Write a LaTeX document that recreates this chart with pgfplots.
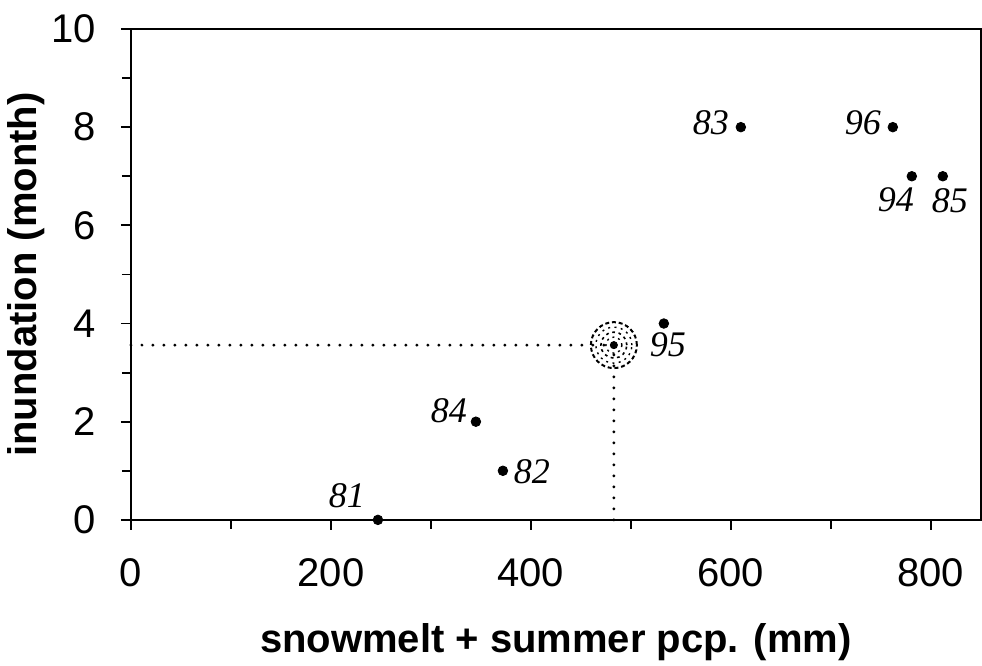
\documentclass[border=0pt]{standalone}
\usepackage{pgfplots}
\pgfplotsset{compat=1.18}
\usepackage{pgfplotstable}
\usepackage{fontspec}
\setmainfont{Liberation Serif}
\newfontfamily\arialfont{Liberation Sans}

% year, x = snowmelt + summer pcp. (mm), y = inundation (months), label offsets (pt)
\pgfplotstableread{
x    y   lbl  dx     dy
247  0   81   -15.5  12
372  1   82   14.5   -0.5
345  2   84   -13.5  5.5
533  4   95   2      -10.5
610  8   83   -15    2
762  8   96   -15    2
781  7   94   -8     -12
812  7   85   3.5    -12
}\yeardata

\begin{document}
\begin{tikzpicture}
\begin{axis}[
  scale only axis,
  width=425pt, height=245.5pt,
  xmin=0, xmax=850, ymin=0, ymax=10,
  axis line style={line width=1pt},
  tick style={line width=0.9pt, black},
  tick align=outside,
  tick pos=left,
  major tick length=5pt,
  minor tick length=4.5pt,
  xtick={0,200,...,800},
  minor xtick={100,300,...,700},
  ytick={0,2,...,10},
  minor ytick={1,3,...,9},
  /pgf/number format/assume math mode=true,
  tick label style={font=\arialfont\fontsize{20}{24}\selectfont},
  xticklabel style={anchor=center, yshift=-21.5pt},
  yticklabel style={anchor=east, xshift=-9pt},
  label style={font=\arialfont\bfseries\fontsize{20}{24}\selectfont},
  xlabel={snowmelt + summer pcp. (mm)},
  ylabel={inundation (month)},
  xlabel style={at={(axis description cs:0.5,-0.2500)}, anchor=center},
  ylabel style={at={(axis description cs:-0.1235,0.5)}, anchor=center},
  clip=false,
]
% reference lines to the mean year
\addplot[line width=1.6pt, line cap=round, dash pattern=on 0pt off 5.5pt]
  coordinates {(0,3.56) (483,3.56)};
\addplot[line width=1.6pt, line cap=round, dash pattern=on 0pt off 5.5pt]
  coordinates {(483,0) (483,3.56)};
% shaded ring around the mean year
\addplot[only marks, mark=o, mark size=11.5pt,
  mark options={line width=1pt, dash pattern=on 2pt off 1.4pt, black}]
  coordinates {(483,3.56)};
\addplot[only marks, mark=o, mark size=9pt,
  mark options={line width=0.7pt, dash pattern=on 1pt off 2.2pt, black}]
  coordinates {(483,3.56)};
\addplot[only marks, mark=o, mark size=6.5pt,
  mark options={line width=0.8pt, dash pattern=on 1.4pt off 1.8pt, black}]
  coordinates {(483,3.56)};
\addplot[only marks, mark=o, mark size=4pt,
  mark options={line width=0.7pt, dash pattern=on 1pt off 2pt, black}]
  coordinates {(483,3.56)};
\addplot[only marks, mark=*, mark size=1.8pt, black]
  coordinates {(483,3.56)};
% yearly points with their labels
\addplot[only marks, mark=*, mark size=2.4pt, black,
  point meta=explicit symbolic,
  visualization depends on={\thisrow{dx} \as \ldx},
  visualization depends on={\thisrow{dy} \as \ldy},
  nodes near coords,
  nodes near coords style={anchor=center, xshift=\ldx*1pt, yshift=\ldy*1pt,
    font=\itshape\fontsize{18}{20}\selectfont, inner sep=0pt},
] table[x=x, y=y, meta=lbl] {\yeardata};
\end{axis}
\pgfresetboundingbox
\path (current axis.south west) ++(-65.5pt,-73pt) coordinate (bl);
\path (current axis.north east) ++(0.6pt,14.5pt) coordinate (tr);
\useasboundingbox (bl) rectangle (tr);
\end{tikzpicture}
\end{document}
